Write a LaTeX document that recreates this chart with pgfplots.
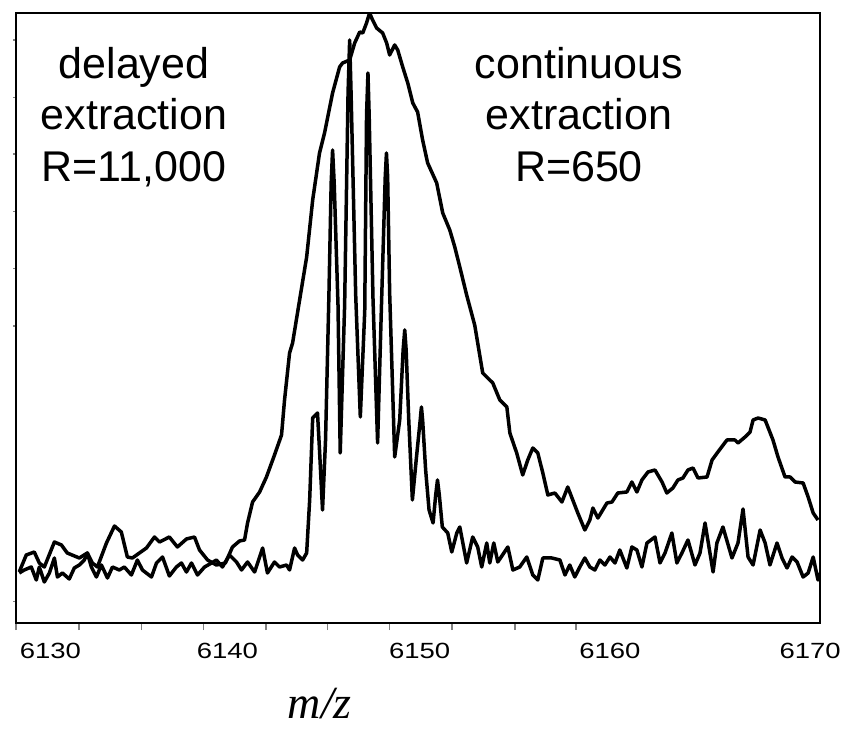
\documentclass[border=0pt]{standalone}
\usepackage{graphicx}
\usepackage{fontspec}
\setmainfont{Liberation Sans}
\newfontfamily\serifit{Liberation Serif}
\usepackage{pgfplots}
\pgfplotsset{compat=1.18}
\begin{document}
\begin{tikzpicture}
\begin{axis}[
  scale only axis,
  width=402pt, height=305pt,
  xmin=6130, xmax=6170, ymin=0, ymax=610,
  axis line style={line width=0.7pt},
  tick align=outside,
  xtick pos=bottom, ytick pos=left,
  xtick={6131.71,6140.52,6150.08,6159.55,6169.51},
  xticklabels={\scalebox{1.25}[1]{6130},\scalebox{1.25}[1]{6140},\scalebox{1.25}[1]{6150},\scalebox{1.25}[1]{6160},\scalebox{1.25}[1]{6170}},
  major x tick style={draw=none},
  minor xtick={6130.00,6133.12,6136.25,6139.33,6142.45,6145.49,6148.59,6151.69,6154.82,6157.85},
  minor tick length=3.5pt,
  minor x tick style={line width=0.8pt},
  ytick={21.3,297,354.7,411.3,469,525.3,583},
  yticklabels={},
  major tick length=1.4pt,
  major y tick style={line width=0.7pt},
  xticklabel style={font=\fontsize{11pt}{12pt}\selectfont, anchor=north, yshift=-5pt},
  xlabel={\serifit\itshape m/z},
  xlabel style={at={(rel axis cs:0.378,0)}, anchor=base, inner sep=0pt, yshift=-47.5pt, font=\fontsize{23pt}{25pt}\selectfont},
]
% continuous extraction, R=650
\addplot[black, no markers, line width=1.75pt, line join=round] coordinates {
(6130.16,51) (6130.51,68) (6130.91,71) (6131.16,60) (6131.41,56) (6131.91,81)
(6132.26,78) (6132.55,70) (6133.15,65) (6133.55,70) (6133.80,60) (6134.05,56)
(6134.50,80) (6134.90,97) (6135.24,91) (6135.54,66) (6135.79,65) (6136.14,70)
(6136.49,75) (6136.89,86) (6137.14,81) (6137.63,86) (6138.03,76) (6138.48,84)
(6138.88,86) (6139.13,73) (6139.53,63) (6139.97,58) (6140.42,60) (6140.77,76)
(6141.12,82) (6141.37,83) (6141.52,100) (6141.77,121) (6142.12,131) (6142.46,146)
(6142.86,168) (6143.21,188) (6143.36,223) (6143.61,270) (6143.76,280) (6144.11,323)
(6144.46,366) (6144.76,423) (6145.10,470) (6145.35,490) (6145.75,530) (6146.10,556)
(6146.25,560) (6146.60,563) (6146.85,580) (6147.10,591) (6147.25,590) (6147.44,600)
(6147.59,610) (6147.74,603) (6147.94,595) (6148.24,590) (6148.44,580) (6148.59,568)
(6148.84,578) (6148.99,573) (6149.24,556) (6149.49,540) (6149.74,520) (6149.98,511)
(6150.23,483) (6150.48,460) (6150.93,440) (6151.23,410) (6151.58,393) (6151.83,376)
(6152.08,356) (6152.42,328) (6152.82,298) (6153.22,250) (6153.72,240) (6154.07,223)
(6154.42,216) (6154.57,190) (6154.91,170) (6155.21,148) (6155.46,163) (6155.71,175)
(6155.96,170) (6156.21,150) (6156.46,128) (6156.81,130) (6157.16,121) (6157.45,136)
(6157.70,123) (6157.95,110) (6158.30,93) (6158.55,103) (6158.70,115) (6158.95,105)
(6159.40,120) (6159.65,121) (6159.94,130) (6160.39,131) (6160.64,141) (6160.89,131)
(6161.14,143) (6161.44,151) (6161.79,153) (6162.14,141) (6162.38,130) (6162.68,135)
(6162.93,143) (6163.18,145) (6163.43,153) (6163.68,155) (6163.93,145) (6164.38,146)
(6164.63,163) (6164.92,171) (6165.37,183) (6165.77,183) (6165.92,180) (6166.27,186)
(6166.52,191) (6166.67,203) (6166.92,205) (6167.27,203) (6167.66,183) (6167.91,166)
(6168.26,146) (6168.51,146) (6168.76,141) (6169.16,140) (6169.41,126) (6169.66,110)
(6169.90,103)
};
% delayed extraction, R=11,000
\addplot[black, no markers, line width=1.75pt, line join=round] coordinates {
(6130.16,50) (6130.41,53) (6130.76,56) (6131.01,43) (6131.16,56) (6131.41,41)
(6131.66,50) (6131.91,65) (6132.06,46) (6132.31,50) (6132.65,44) (6132.90,55)
(6133.15,58) (6133.40,63) (6133.55,70) (6133.75,56) (6134.00,46) (6134.25,58)
(6134.55,45) (6134.80,56) (6135.14,53) (6135.39,56) (6135.74,48) (6136.04,63)
(6136.29,53) (6136.74,46) (6136.99,60) (6137.29,66) (6137.63,47) (6137.98,56)
(6138.23,60) (6138.48,51) (6138.73,60) (6139.03,48) (6139.38,56) (6139.73,60)
(6139.97,63) (6140.27,56) (6140.62,68) (6140.97,61) (6141.22,53) (6141.52,61)
(6141.87,51) (6142.27,75) (6142.51,50) (6142.86,61) (6143.11,56) (6143.46,58)
(6143.61,53) (6143.86,75) (6144.01,68) (6144.26,63) (6144.46,70) (6144.61,123)
(6144.76,205) (6145.00,210) (6145.10,173) (6145.25,113) (6145.40,183) (6145.57,330)
(6145.68,440) (6145.75,473) (6145.83,440) (6146.02,318) (6146.13,170) (6146.35,318)
(6146.52,530) (6146.60,583) (6146.67,530) (6146.90,328) (6147.13,206) (6147.35,312)
(6147.44,508) (6147.51,550) (6147.57,508) (6147.76,325) (6147.99,180) (6148.18,316)
(6148.37,446) (6148.43,470) (6148.49,446) (6148.59,330) (6148.84,166) (6149.09,203)
(6149.26,273) (6149.34,293) (6149.41,273) (6149.54,203) (6149.72,123) (6149.91,163)
(6150.11,203) (6150.17,216) (6150.23,203) (6150.38,153) (6150.55,113) (6150.75,100)
(6150.88,128) (6150.97,143) (6151.06,128) (6151.21,96) (6151.48,90) (6151.68,71)
(6151.93,90) (6152.08,96) (6152.42,60) (6152.72,86) (6152.97,76) (6153.17,56)
(6153.42,80) (6153.57,60) (6153.77,80) (6153.97,61) (6154.47,76) (6154.72,53)
(6155.06,56) (6155.41,66) (6155.71,48) (6155.96,43) (6156.21,65) (6156.66,65)
(6157.06,63) (6157.31,48) (6157.55,58) (6157.80,46) (6158.05,56) (6158.30,65)
(6158.55,56) (6158.80,53) (6159.05,63) (6159.30,58) (6159.55,66) (6159.80,60)
(6160.04,73) (6160.39,55) (6160.64,76) (6160.89,73) (6161.14,56) (6161.39,80)
(6161.79,86) (6162.04,60) (6162.29,70) (6162.63,90) (6162.88,60) (6163.13,70)
(6163.43,83) (6163.78,58) (6164.03,70) (6164.28,100) (6164.68,51) (6164.87,80)
(6165.17,96) (6165.62,65) (6165.92,80) (6166.17,114) (6166.42,66) (6166.67,58)
(6167.02,93) (6167.27,80) (6167.51,58) (6167.86,80) (6168.11,65) (6168.36,55)
(6168.61,66) (6168.86,61) (6169.16,46) (6169.41,50) (6169.66,66) (6169.90,43)
(6170.00,50)
};
\begin{scope}[every node/.style={font=\fontsize{21.5pt}{25pt}\selectfont, anchor=base, inner sep=0pt}]
\node at (rel axis cs:0.1468,0.8934) {delayed};
\node at (rel axis cs:0.1468,0.8082) {extraction};
\node at (rel axis cs:0.1468,0.7230) {R=11,000};
\node at (rel axis cs:0.7002,0.8934) {continuous};
\node at (rel axis cs:0.7002,0.8082) {extraction};
\node at (rel axis cs:0.7002,0.7230) {R=650};
\end{scope}
\coordinate (ll) at (rel axis cs:0,0);
\coordinate (ur) at (rel axis cs:1,1);
\end{axis}
\pgfresetboundingbox
\path[use as bounding box] ([shift={(-8pt,-54pt)}]ll) rectangle ([shift={(11.5pt,6.5pt)}]ur);
\end{tikzpicture}
\end{document}
